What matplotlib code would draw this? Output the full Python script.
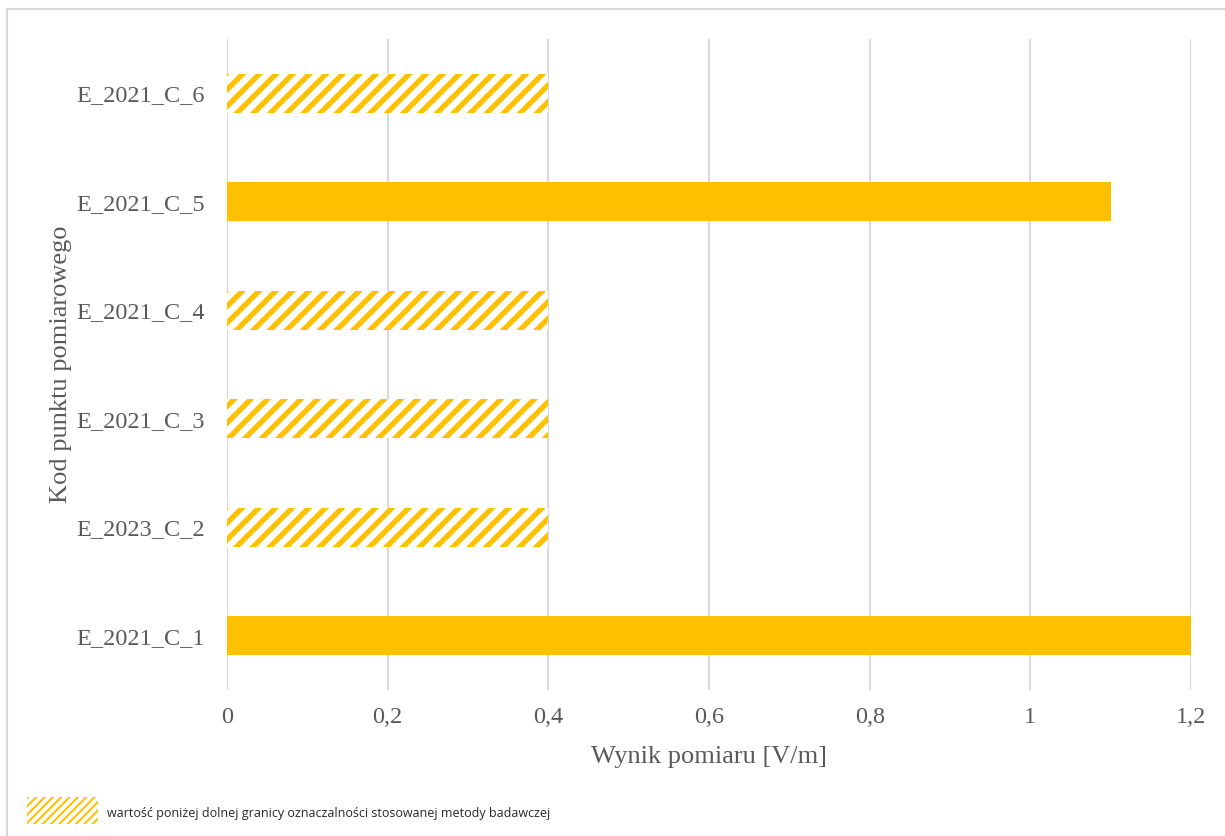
import matplotlib
matplotlib.use("Agg")
import matplotlib as mpl
import matplotlib.pyplot as plt
from matplotlib.patches import Rectangle

categories = ["E_2021_C_1", "E_2023_C_2", "E_2021_C_3", "E_2021_C_4", "E_2021_C_5", "E_2021_C_6"]
values = [1.2, 0.4, 0.4, 0.4, 1.1, 0.4]
below_limit = [False, True, True, True, False, True]
xticks = [0, 0.2, 0.4, 0.6, 0.8, 1.0, 1.2]
xtick_labels = ["0", "0,2", "0,4", "0,6", "0,8", "1", "1,2"]
xlabel = "Wynik pomiaru [V/m]"
ylabel = "Kod punktu pomiarowego"
legend_text = "wartość poniżej dolnej granicy oznaczalności stosowanej metody badawczej"

YELLOW = "#FFC000"
GRID = "#D9D9D9"
TXT = "#595959"
W, H = 1225, 836

plt.rcParams["hatch.linewidth"] = 3.8
fig = plt.figure(figsize=(W / 100, H / 100), dpi=100)
ax = fig.add_axes([227 / W, 1 - 690 / H, (1191 - 227) / W, (690 - 39) / H])

for i, (v, b) in enumerate(zip(values, below_limit)):
    if b:
        ax.barh(i, v, height=0.36, facecolor="white", edgecolor=YELLOW,
                hatch="//", linewidth=0, zorder=3)
    else:
        ax.barh(i, v, height=0.36, color=YELLOW, linewidth=0, zorder=3)

ax.set_xlim(0, 1.2)
ax.set_ylim(-0.5, len(categories) - 0.5)
ax.set_xticks(xticks)
ax.set_xticklabels(xtick_labels)
ax.set_yticks(range(len(categories)))
ax.set_yticklabels(categories)
for s in ax.spines.values():
    s.set_visible(False)
ax.grid(axis="x", color=GRID, linewidth=1.5, zorder=0)
ax.tick_params(length=0, labelsize=17.5)
for lab in ax.get_xticklabels() + ax.get_yticklabels():
    lab.set_fontfamily("Liberation Serif")
    lab.set_color(TXT)
ax.tick_params(axis="x", pad=12)
ax.tick_params(axis="y", pad=15.8)
ax.set_xlabel(xlabel, fontsize=19, family="Liberation Serif", color=TXT, labelpad=13)
ax.set_ylabel(ylabel, fontsize=19, family="Liberation Serif", color=TXT, labelpad=3.5)

# outer frame
fig.patches.append(Rectangle((7 / W, -0.1), 1.2, 1 - 9 / H + 0.1, transform=fig.transFigure,
                             fill=False, edgecolor=GRID, linewidth=1.5))

# legend patch
with mpl.rc_context({"hatch.linewidth": 1.5}):
    leg = Rectangle((27 / W, 1 - 824 / H), 71 / W, 27 / H, transform=fig.transFigure,
                    facecolor="white", edgecolor=YELLOW, hatch="////", linewidth=0)
    if hasattr(leg, "set_hatch_linewidth"):
        leg.set_hatch_linewidth(1.5)
fig.patches.append(leg)
fig.text(107 / W, 1 - 817 / H, legend_text, fontsize=9,
         family=["Open Sans", "DejaVu Sans"], color="#262626", va="baseline")

fig.savefig("out.png", dpi=100)
